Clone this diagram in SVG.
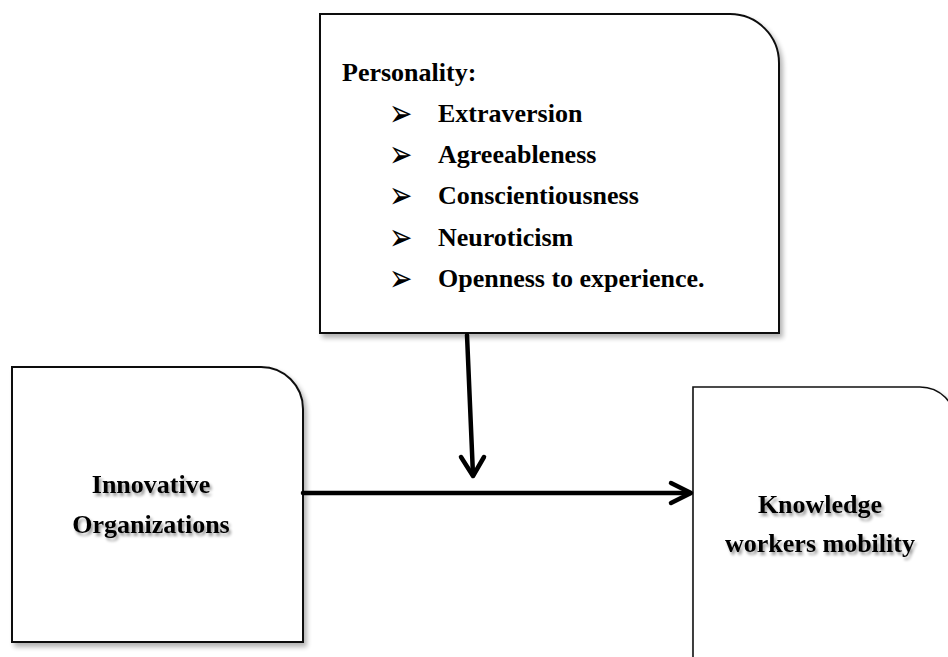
<svg xmlns="http://www.w3.org/2000/svg" width="948" height="657" viewBox="0 0 948 657">
<defs>
<filter id="boxShadow" x="-10%" y="-10%" width="130%" height="130%">
<feGaussianBlur in="SourceAlpha" stdDeviation="2.5"/>
<feOffset dx="3" dy="4" result="b"/>
<feComponentTransfer><feFuncA type="linear" slope="0.3"/></feComponentTransfer>
<feMerge><feMergeNode/><feMergeNode in="SourceGraphic"/></feMerge>
</filter>
<filter id="textShadow" x="-10%" y="-30%" width="130%" height="180%">
<feGaussianBlur in="SourceAlpha" stdDeviation="1.8"/>
<feOffset dx="2" dy="3"/>
<feComponentTransfer><feFuncA type="linear" slope="0.4"/></feComponentTransfer>
<feMerge><feMergeNode/><feMergeNode in="SourceGraphic"/></feMerge>
</filter>
</defs>
<style>
.box{fill:#fff;stroke:#111;stroke-width:2}
.t{font-family:"Liberation Serif","Times New Roman",serif;font-weight:bold;font-size:26px;fill:#000}
.c{text-anchor:middle}
.bul{font-family:"DejaVu Sans",sans-serif;font-size:28px;fill:#000}
.conn{fill:none;stroke:#000;stroke-width:4.5;stroke-linecap:round;stroke-linejoin:round}
</style>
<rect width="948" height="657" fill="#fff"/>
<g id="personality">
<path class="box" filter="url(#boxShadow)" d="M320,14 H730 A49,49 0 0 1 779,63 V333 H320 Z"/>
<text class="t" x="342" y="81">Personality:</text>
<text class="bul" transform="translate(389,122) scale(1,1.35)" x="0" y="2.6">➢</text>
<text class="t" x="438" y="122">Extraversion</text>
<text class="bul" transform="translate(389,163) scale(1,1.35)" x="0" y="2.6">➢</text>
<text class="t" x="438" y="163">Agreeableness</text>
<text class="bul" transform="translate(389,204) scale(1,1.35)" x="0" y="2.6">➢</text>
<text class="t" x="438" y="204">Conscientiousness</text>
<text class="bul" transform="translate(389,246) scale(1,1.35)" x="0" y="2.6">➢</text>
<text class="t" x="438" y="246">Neuroticism</text>
<text class="bul" transform="translate(389,287) scale(1,1.35)" x="0" y="2.6">➢</text>
<text class="t" x="438" y="287">Openness to experience.</text>
</g>
<g id="innovative">
<path class="box" filter="url(#boxShadow)" d="M12,367 H261 A42,42 0 0 1 303,409 V642 H12 Z"/>
<g filter="url(#textShadow)">
<text class="t c" x="151" y="493">Innovative</text>
<text class="t c" x="151" y="533">Organizations</text>
</g>
</g>
<g id="knowledge">
<path class="box" style="stroke-width:1.6" filter="url(#boxShadow)" d="M693,387 H920 A36,36 0 0 1 956,423 V700 H693 Z"/>
<g filter="url(#textShadow)">
<text class="t c" x="820" y="513">Knowledge</text>
<text class="t c" x="820" y="552">workers mobility</text>
</g>
</g>
<g id="connectors">
<path class="conn" d="M467,335 L473,475"/>
<path class="conn" d="M461,457 L473,476 L484,457"/>
<path class="conn" d="M303,493 L690,493"/>
<path class="conn" d="M671,483 L691,493 L671,503"/>
</g>
</svg>
